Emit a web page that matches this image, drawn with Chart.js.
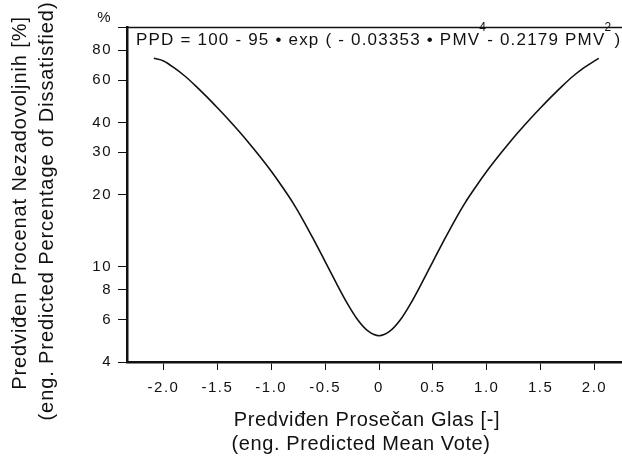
<!DOCTYPE html>
<html>
<head>
<meta charset="utf-8">
<script src="https://cdn.jsdelivr.net/npm/chart.js@4"></script>
<style>
  html, body { margin: 0; padding: 0; background: #fff; }
  #wrap { width: 622px; height: 457px; }
</style>
</head>
<body>
<div id="wrap"><canvas id="ppd-chart" width="622" height="457"></canvas></div>
<script>
// PMV (x) and PPD in % (y)
const pmv = [-2.09, -2.0, -1.9, -1.8, -1.7, -1.6, -1.5, -1.4, -1.3, -1.2, -1.1, -1.0, -0.9, -0.8, -0.7, -0.6, -0.5, -0.4, -0.3, -0.2, -0.1,
             0, 0.1, 0.2, 0.3, 0.4, 0.5, 0.6, 0.7, 0.8, 0.9, 1.0, 1.1, 1.2, 1.3, 1.4, 1.5, 1.6, 1.7, 1.8, 1.9, 2.0, 2.04]
const ppd = [74, 72.2, 67.5, 62.3, 56.7, 51.2, 46.0, 41.2, 36.7, 32.5, 28.6, 25.0, 21.6, 18.5, 15.5, 12.8, 10.5, 8.6, 7.1, 6.02, 5.38,
             5.15, 5.38, 6.02, 7.1, 8.6, 10.5, 12.8, 15.5, 18.5, 21.6, 25.0, 28.6, 32.5, 36.7, 41.2, 46.0, 51.2, 56.7, 62.3, 67.5, 72.2, 74]
const xTicks = [-2.0, -1.5, -1.0, -0.5, 0, 0.5, 1.0, 1.5, 2.0]
const yTicks = [4, 6, 8, 10, 20, 30, 40, 60, 80, 100]

const FONT = "'Liberation Sans', Arial, Helvetica, sans-serif"
const INK = "#111"

let punti = pmv.map((x, i) => ({ x: x, y: ppd[i] }))

// wider lettering like the original figure
const spaziatura = {
    id: "spaziatura",
    beforeDraw(chart) {
        chart.ctx.letterSpacing = "1.5px"
    }
}

// frame top line, equation and axis titles
const decorazioni = {
    id: "decorazioni",
    afterDraw(chart) {
        let ctx = chart.ctx
        let a = chart.chartArea
        ctx.save()
        ctx.strokeStyle = INK
        ctx.lineWidth = 1.5
        ctx.beginPath()
        ctx.moveTo(a.left, a.top + 0.5)
        ctx.lineTo(chart.width, a.top + 0.5)
        ctx.stroke()

        // equation
        ctx.fillStyle = INK
        ctx.textBaseline = "alphabetic"
        ctx.textAlign = "left"
        ctx.letterSpacing = "1.2px"
        let parti = [
            { t: "PPD = 100 - 95 \u2022 exp ( - 0.03353 \u2022 PMV" },
            { t: "4", sup: true, gap: -1 },
            { t: "- 0.2179 PMV" },
            { t: "2", sup: true, gap: -1 },
            { t: ")", gap: 2 }
        ]
        let x = 136
        for (let p of parti) {
            if (p.gap) x += p.gap
            ctx.font = p.sup ? `12px ${FONT}` : `17px ${FONT}`
            ctx.fillText(p.t, x, p.sup ? 31 : 45)
            x += ctx.measureText(p.t).width
        }

        // titles
        ctx.font = `20px ${FONT}`
        ctx.letterSpacing = "0.6px"
        ctx.textAlign = "center"
        ctx.textBaseline = "alphabetic"
        ctx.fillText("Predviđen Prosečan Glas [-]", 367, 426)
        ctx.fillText("(eng. Predicted Mean Vote)", 361, 450)

        ctx.letterSpacing = "0.9px"
        ctx.translate(26, 203)
        ctx.rotate(-Math.PI / 2)
        ctx.fillText("Predviđen Procenat Nezadovoljnih [%]", 0, 0)
        ctx.fillText("(eng. Predicted Percentage of Dissatisfied)", -8, 27)
        ctx.restore()
    }
}

let ctx = document.getElementById("ppd-chart").getContext("2d")
let grafico = new Chart(ctx, {
    type: "scatter",
    data: {
        datasets: [{
            data: punti,
            showLine: true,
            borderColor: INK,
            borderWidth: 1.6,
            pointRadius: 0,
            cubicInterpolationMode: "monotone",
            fill: false
        }]
    },
    options: {
        responsive: false,
        animation: false,
        layout: { padding: { top: 27, left: 0, right: 0, bottom: 0 } },
        plugins: {
            legend: { display: false },
            tooltip: { enabled: false }
        },
        scales: {
            x: {
                type: "linear",
                min: -2.339,
                max: 2.255,
                afterBuildTicks: (axis) => { axis.ticks = xTicks.map(v => ({ value: v })) },
                afterFit: (axis) => { axis.height = 95 },
                ticks: {
                    color: INK,
                    font: { family: FONT, size: 15 },
                    padding: 9,
                    maxRotation: 0,
                    callback: (v) => v === 0 ? "0" : v.toFixed(1)
                },
                grid: { drawOnChartArea: false, drawTicks: true, tickLength: 8, color: INK, lineWidth: 1 },
                border: { display: true, color: INK, width: 2.5 }
            },
            y: {
                type: "logarithmic",
                min: 4,
                max: 100,
                afterBuildTicks: (axis) => { axis.ticks = yTicks.map(v => ({ value: v })) },
                afterFit: (axis) => { axis.width = 127 },
                ticks: {
                    color: INK,
                    font: { family: FONT, size: 15 },
                    padding: 6,
                    autoSkip: false,
                    // the "%" sits a little above the top tick
                    callback: (v) => v === 100 ? ["%", ""] : String(v)
                },
                grid: { drawOnChartArea: false, drawTicks: true, tickLength: 9, color: INK, lineWidth: 1 },
                border: { display: true, color: INK, width: 2.5 }
            }
        }
    },
    plugins: [spaziatura, decorazioni]
})
</script>
</body>
</html>
